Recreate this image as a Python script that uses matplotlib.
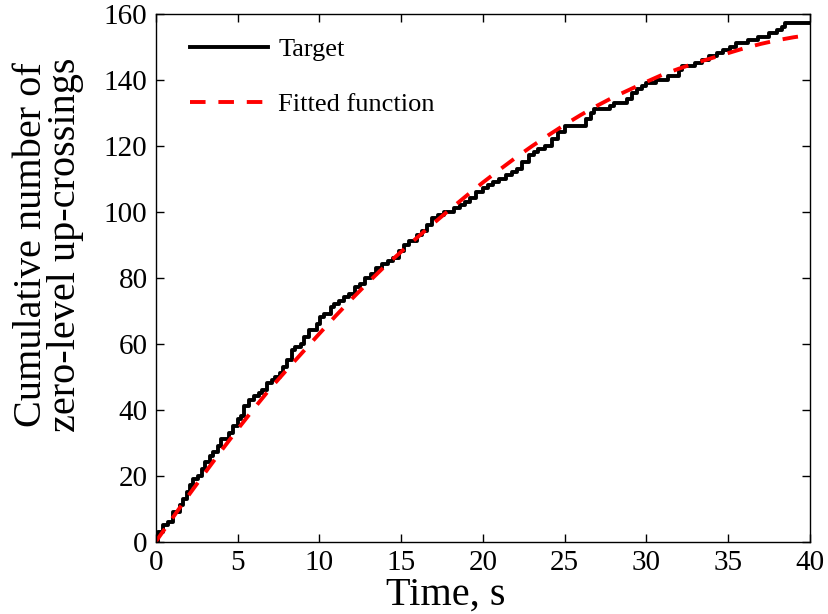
import matplotlib.pyplot as plt

# target: cumulative count of zero-level up-crossings
target_t = [0.0, 0.15, 0.45, 0.75, 1.05, 1.45, 1.65, 1.9, 2.1, 2.3, 2.6, 2.8, 3.0, 3.3, 3.5, 3.8,
            4.0, 4.5, 4.7, 5.0, 5.2, 5.4, 5.7, 6.0, 6.3, 6.5, 6.8, 7.1, 7.3, 7.6, 7.8, 8.0,
            8.3, 8.5, 8.85, 9.05, 9.35, 9.85, 10.05, 10.3, 10.7, 10.9, 11.2, 11.5, 11.8, 12.2,
            12.5, 12.8, 13.15, 13.45, 13.85, 14.2, 14.5, 14.9, 15.2, 15.5, 16.0, 16.3, 16.6,
            16.9, 17.25, 17.65, 18.25, 18.6, 18.9, 19.2, 19.6, 20.0, 20.3, 20.6, 21.0, 21.4,
            21.8, 22.1, 22.4, 22.8, 23.1, 23.4, 23.8, 24.2, 24.6, 25.05, 26.3, 26.6, 26.8,
            27.8, 28.0, 28.8, 29.1, 29.4, 29.7, 30.0, 30.6, 31.3, 32.0, 32.2, 33.0, 33.4,
            33.8, 34.3, 34.7, 35.1, 35.5, 36.2, 36.8, 37.5, 38.0, 38.3, 38.45, 40.0]
target_n = [0, 3, 5, 6, 9, 11, 13, 15, 17, 19, 20, 22, 24, 26, 27, 29,
            31, 33, 35, 37, 38, 41, 43, 44, 45, 46, 48, 49, 50, 51, 53, 55,
            58, 59, 60, 62, 64, 66, 68, 69, 71, 72, 73, 74, 75, 77,
            78, 80, 81, 83, 84, 85, 86, 88, 90, 91, 93, 94, 96,
            98, 99, 100, 101, 102, 103, 104, 106, 107, 108, 109, 110, 111,
            112, 113, 115, 117, 118, 119, 120, 122, 124, 126, 128, 130, 131,
            132, 133, 134, 136, 137, 138, 139, 140, 141, 143, 144, 145, 146,
            147, 148, 149, 150, 151, 152, 153, 154, 155, 156, 157, 157]

# fitted function, read at 1 s steps
fit_t = list(range(0, 41))
fit_n = [0, 7, 14, 20.8, 27.5, 34, 40.3, 46.4, 52, 57.5, 63, 68.4, 73.6, 78.6, 83.4, 87.8,
         92.2, 96.5, 100.7, 104.8, 108.8, 112.6, 116.3, 119.8, 123.1, 126.3, 129.3, 132.1, 134.7,
         137, 139.3, 141.5, 143.3, 145, 146.5, 148, 149.5, 150.8, 151.9, 152.8, 153.5]

plt.rcParams['font.family'] = ['Liberation Serif', 'DejaVu Serif']

fig = plt.figure(figsize=(8.29, 6.14), dpi=100)
ax = fig.add_axes([0.188, 0.118, 0.789, 0.860])

ax.plot(target_t, target_n, color='black', lw=2.8, drawstyle='steps-post', label='Target')
ax.plot(fit_t, fit_n, color='red', lw=2.8, dashes=(4, 3.3), label='Fitted function')

ax.set_xlim(0, 40)
ax.set_ylim(0, 160)
ax.set_xticks(range(0, 41, 5))
ax.set_yticks(range(0, 161, 20))
ax.tick_params(direction='in', length=6, width=1, labelsize=21, top=True, right=True, pad=6)
for s in ax.spines.values():
    s.set_linewidth(1)

ax.set_xlabel('Time, s', fontsize=29)
ax.xaxis.set_label_coords(0.443, -0.067)
ax.set_ylabel('Cumulative number of\nzero-level up-crossings', fontsize=29, linespacing=0.9)
ax.yaxis.set_label_coords(-0.110, 0.562)

ax.legend(loc='upper left', frameon=False, fontsize=19, handlelength=2.95,
          handletextpad=0.4, borderaxespad=0, labelspacing=1.2,
          bbox_to_anchor=(0.036, 0.974))

fig.savefig('out.png', dpi=100)
